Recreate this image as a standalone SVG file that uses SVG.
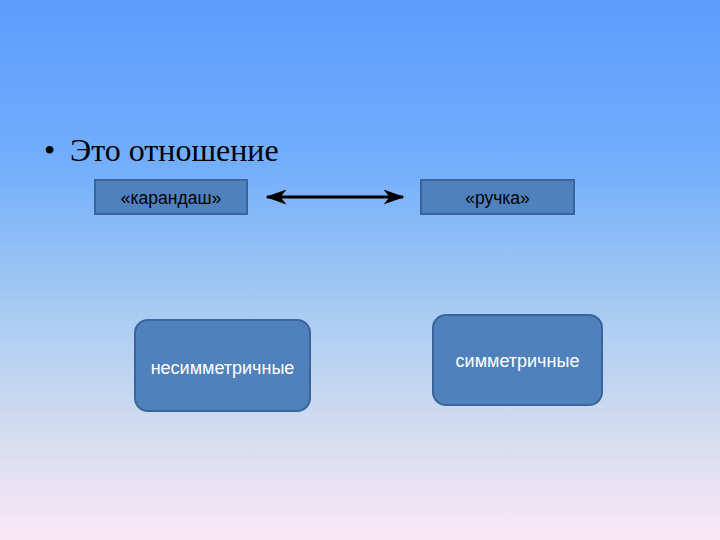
<svg xmlns="http://www.w3.org/2000/svg" width="720" height="540" viewBox="0 0 720 540">
<defs>
<linearGradient id="bg" x1="0" y1="0" x2="0" y2="1">
<stop offset="0" stop-color="#5c9cfd"/>
<stop offset="0.3" stop-color="#72aefc"/>
<stop offset="0.55" stop-color="#a3c9f3"/>
<stop offset="0.8" stop-color="#d3dcef"/>
<stop offset="1" stop-color="#fbe8f6"/>
</linearGradient>
<marker id="ah" viewBox="0 0 14 10" refX="13" refY="5" markerWidth="7" markerHeight="5" orient="auto-start-reverse" markerUnits="strokeWidth">
<path d="M0,0 L14,5 L0,10 L4,5 Z" fill="#000"/>
</marker>
<style>
.box{fill:#4f81bd;stroke:#3a649a;stroke-width:2}
.lbl{font-family:"Liberation Sans",Arial,sans-serif;font-size:17.5px;fill:#000;text-anchor:middle}
.wl{font-family:"Liberation Sans",Arial,sans-serif;font-size:18px;fill:#fff;text-anchor:middle}
</style>
</defs>
<rect width="720" height="540" fill="url(#bg)"/>
<g id="title">
<text x="44" y="161" font-family="'Liberation Serif','Times New Roman',serif" font-size="32" fill="#000">•</text>
<text x="70" y="161" font-family="'Liberation Serif','Times New Roman',serif" font-size="32" fill="#000">Это отношение</text>
</g>
<g id="pencil">
<rect class="box" x="95" y="180" width="152" height="34"/>
<text class="lbl" x="171" y="204">«карандаш»</text>
</g>
<g id="pen">
<rect class="box" x="421" y="180" width="153" height="34"/>
<text class="lbl" x="497.5" y="204">«ручка»</text>
</g>
<g id="connectors">
<line x1="267" y1="197" x2="403" y2="197" stroke="#000" stroke-width="3" marker-start="url(#ah)" marker-end="url(#ah)"/>
</g>
<g id="asym">
<rect class="box" x="135" y="320" width="175" height="91" rx="13"/>
<text class="wl" x="222.5" y="374">несимметричные</text>
</g>
<g id="sym">
<rect class="box" x="433" y="315" width="169" height="90" rx="13"/>
<text class="wl" x="517.5" y="367">симметричные</text>
</g>
</svg>
